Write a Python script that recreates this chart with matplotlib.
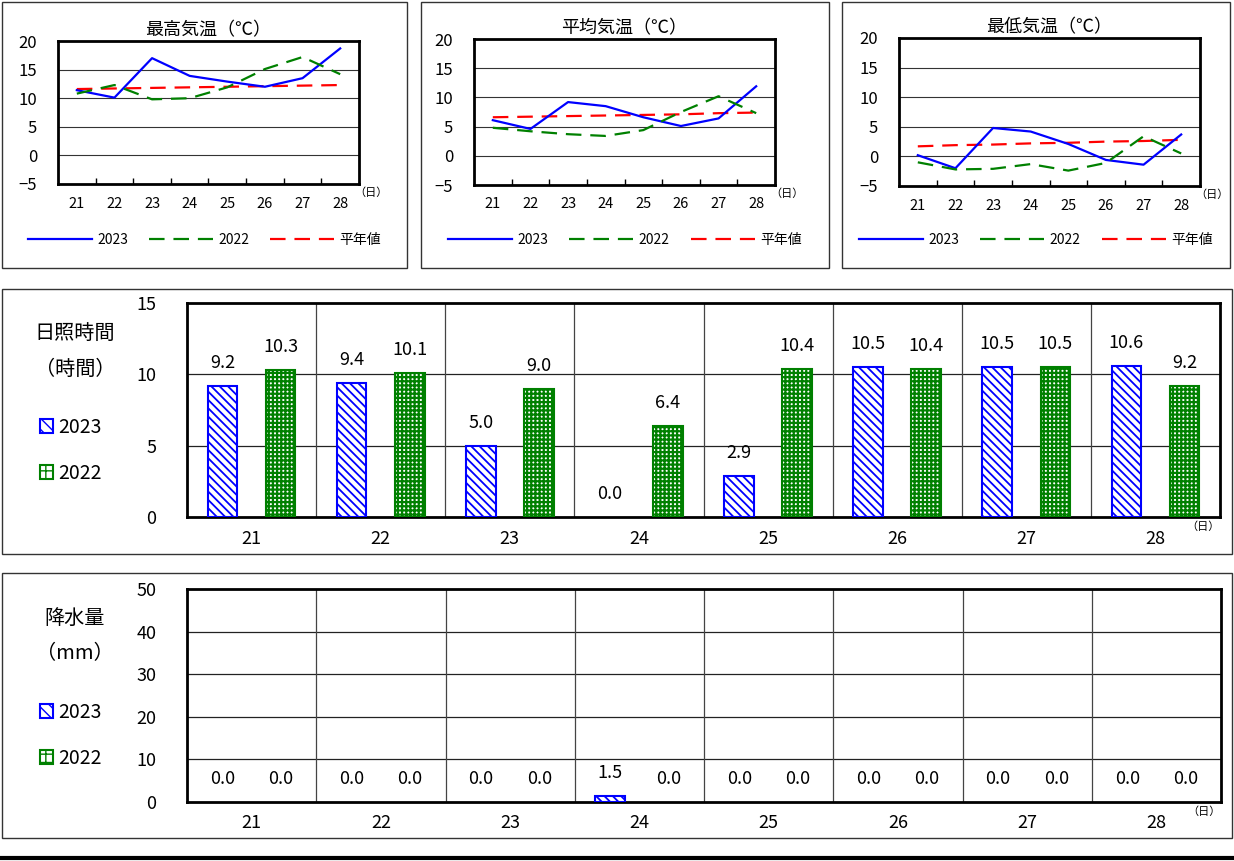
import matplotlib
matplotlib.use("Agg")
import matplotlib.pyplot as plt
from matplotlib.patches import Rectangle, Patch
from matplotlib.lines import Line2D
import numpy as np

plt.rcParams['font.family'] = ['Noto Sans CJK JP', 'DejaVu Sans']
plt.rcParams['hatch.linewidth'] = 1.3

# ---------------- data ----------------
days = ["21", "22", "23", "24", "25", "26", "27", "28"]

tmax_2023 = [11.4, 10.1, 17.0, 13.9, 12.9, 12.0, 13.5, 18.7]
tmax_2022 = [10.8, 12.3, 9.8, 10.0, 11.9, 15.1, 17.2, 14.2]
tmax_norm = [11.6, 11.7, 11.8, 11.9, 12.0, 12.1, 12.2, 12.3]

tavg_2023 = [6.1, 4.6, 9.2, 8.5, 6.6, 5.1, 6.4, 11.9]
tavg_2022 = [4.8, 4.2, 3.7, 3.4, 4.4, 7.5, 10.2, 7.3]
tavg_norm = [6.6, 6.7, 6.8, 6.9, 7.0, 7.1, 7.3, 7.4]

tmin_2023 = [0.2, -2.0, 4.8, 4.2, 2.1, -0.6, -1.4, 3.7]
tmin_2022 = [-1.0, -2.2, -2.1, -1.3, -2.4, -1.1, 3.4, 0.5]
tmin_norm = [1.7, 1.9, 2.0, 2.2, 2.3, 2.5, 2.6, 2.8]

sun_2023 = [9.2, 9.4, 5.0, 0.0, 2.9, 10.5, 10.5, 10.6]
sun_2022 = [10.3, 10.1, 9.0, 6.4, 10.4, 10.4, 10.5, 9.2]

rain_2023 = [0.0, 0.0, 0.0, 1.5, 0.0, 0.0, 0.0, 0.0]
rain_2022 = [0.0, 0.0, 0.0, 0.0, 0.0, 0.0, 0.0, 0.0]

series_labels = ["2023", "2022", "平年値"]

# ---------------- layout helpers ----------------
W, H = 1234, 861
fig = plt.figure(figsize=(W / 100, H / 100), dpi=100)


def frect(x0, y0, x1, y1):
    return [x0 / W, 1 - y1 / H, (x1 - x0) / W, (y1 - y0) / H]


def frame(x0, y0, x1, y1, lw=1.0):
    fig.add_artist(Rectangle((x0 / W, 1 - y1 / H), (x1 - x0) / W, (y1 - y0) / H,
                             transform=fig.transFigure, fill=False,
                             ec='#333333', lw=lw))


BLUE = '#0000FF'
GREEN = '#008000'
RED = '#FF0000'


def temp_panel(box, plot, title, s23, s22, snorm):
    frame(*box)
    ax = fig.add_axes(frect(*plot))
    x = np.arange(len(days))
    ax.plot(x, s23, color=BLUE, lw=1.6, zorder=4)
    ax.plot(x, s22, color=GREEN, lw=1.6, dashes=(7, 4), zorder=4)
    ax.plot(x, snorm, color=RED, lw=1.6, dashes=(7, 4), zorder=3)
    ax.set_xlim(-0.5, len(days) - 0.5)
    ax.set_ylim(-5, 20)
    ax.set_yticks([-5, 0, 5, 10, 15, 20])
    for v in [0, 5, 10, 15]:
        ax.axhline(v, color='#333333', lw=0.8, zorder=1)
    ax.set_xticks(x)
    ax.set_xticklabels(days, fontsize=10.5)
    ax.set_xticks(np.arange(len(days) - 1) + 0.5, minor=True)
    ax.tick_params(axis='x', which='major', length=0, pad=9)
    ax.tick_params(axis='x', which='minor', direction='in', length=4, width=1)
    ax.tick_params(axis='y', length=0, labelsize=12, pad=15)
    for s in ax.spines.values():
        s.set_linewidth(2)
    ax.set_title(title, fontsize=13, pad=4)
    ax.text(0.985, -0.02, "（日）", transform=ax.transAxes, fontsize=8,
            ha='left', va='top')
    handles = [Line2D([], [], color=BLUE, lw=1.6),
               Line2D([], [], color=GREEN, lw=1.6, dashes=(7, 4)),
               Line2D([], [], color=RED, lw=1.6, dashes=(7, 4))]
    bx0, by0, bx1, by1 = box
    ax.legend(handles, series_labels, loc='center',
              bbox_to_anchor=((bx0 + bx1) / 2 / W, 1 - 240 / H),
              bbox_transform=fig.transFigure, ncol=3, frameon=False,
              fontsize=10, handlelength=4.6, columnspacing=1.5,
              handletextpad=0.4)
    return ax


temp_panel((2, 2, 407, 268), (58, 41, 359, 184), "最高気温（℃）",
           tmax_2023, tmax_2022, tmax_norm)
temp_panel((421, 2, 829, 268), (474, 39, 775, 185), "平均気温（℃）",
           tavg_2023, tavg_2022, tavg_norm)
temp_panel((842, 2, 1230, 268), (899, 38, 1200, 186), "最低気温（℃）",
           tmin_2023, tmin_2022, tmin_norm)


def bar_panel(box, plot, ylabel1, ylabel2, v23, v22, ymax, ystep, lab_y):
    frame(*box)
    ax = fig.add_axes(frect(*plot))
    x = np.arange(len(days))
    w = 0.23
    off = 0.225
    plt.rcParams['hatch.linewidth'] = 1.3
    b1 = ax.bar(x - off, v23, width=w, facecolor='white', edgecolor=BLUE,
                hatch='\\\\\\\\', lw=[1.5 if v > 0 else 0 for v in v23],
                zorder=3)
    plt.rcParams['hatch.linewidth'] = 1.6
    b2 = ax.bar(x + off, v22, width=w, facecolor='white', edgecolor=GREEN,
                hatch='++++', lw=[1.5 if v > 0 else 0 for v in v22],
                zorder=3)
    for bars, vals in ((b1, v23), (b2, v22)):
        for r, v in zip(bars, vals):
            ax.annotate(f"{v:.1f}", (r.get_x() + r.get_width() / 2, v),
                        xytext=(0, 10), textcoords='offset points',
                        ha='center', va='bottom', fontsize=13, zorder=5)
    ax.set_xlim(-0.5, len(days) - 0.5)
    ax.set_ylim(0, ymax)
    ax.set_yticks(np.arange(0, ymax + 0.1, ystep))
    for v in np.arange(ystep, ymax, ystep):
        ax.axhline(v, color='#222222', lw=0.9, zorder=1)
    for b in np.arange(len(days) - 1) + 0.5:
        ax.axvline(b, color='#444444', lw=0.9, zorder=1)
    ax.set_xticks(x)
    ax.set_xticklabels(days, fontsize=13)
    ax.tick_params(axis='x', length=0, pad=9)
    ax.tick_params(axis='y', length=0, labelsize=13, pad=22)
    for s in ax.spines.values():
        s.set_linewidth(2)
    ax.text(1.0, -0.02, "（日）", transform=ax.transAxes, fontsize=8,
            ha='right', va='top')
    fig.text(75 / W, 1 - (lab_y) / H, ylabel1, fontsize=14.5, ha='center',
             va='center')
    fig.text(75 / W, 1 - (lab_y + 36) / H, ylabel2, fontsize=14.5,
             ha='center', va='center')
    plt.rcParams['hatch.linewidth'] = 1.0
    handles = [Patch(facecolor='white', edgecolor=BLUE, hatch='\\\\\\', lw=1.5),
               Patch(facecolor='white', edgecolor=GREEN, hatch='++', lw=1.5)]
    ax.legend(handles, series_labels[:2], loc='upper left',
              bbox_to_anchor=(30 / W, 1 - (lab_y + 74) / H),
              bbox_transform=fig.transFigure, frameon=False, fontsize=14,
              handlelength=0.7, handleheight=0.7, handletextpad=0.25,
              labelspacing=1.3, borderpad=0)
    return ax


bar_panel((2, 289, 1232, 554), (187, 303, 1220, 517), "日照時間", "（時間）",
          sun_2023, sun_2022, 15, 5, 333)
bar_panel((2, 573, 1232, 838), (187, 589, 1221, 802), "降水量", "（mm）",
          rain_2023, rain_2022, 50, 10, 618)

# bottom rule
fig.add_artist(Line2D([0, 1], [1 - 858 / H, 1 - 858 / H],
                      transform=fig.transFigure, color='black', lw=3))

fig.savefig("out.png", dpi=100)
